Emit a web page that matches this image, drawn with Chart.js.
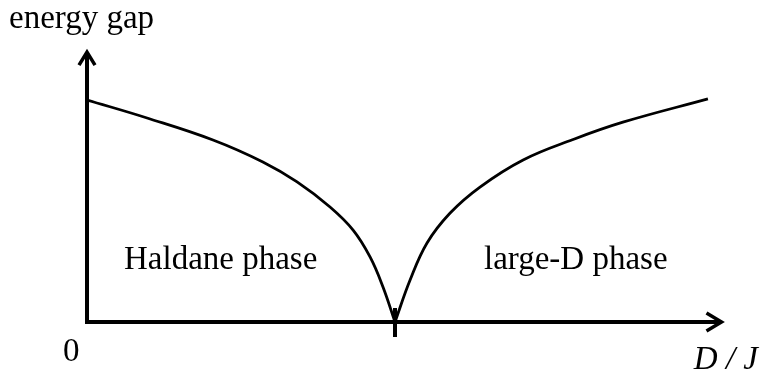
<!DOCTYPE html>
<html>
<head>
<meta charset="utf-8">
<script src="https://cdn.jsdelivr.net/npm/chart.js@4"></script>
<style>
  html, body { margin: 0; padding: 0; background: #fff; }
  #wrap { width: 767px; height: 372px; }
</style>
</head>
<body>
<div id="wrap"><canvas id="gapChart"></canvas></div>
<script>
// D/J in units of the critical point (Dc = 1), gap in units of the gap at D = 0
const haldaneX = [0, 0.195, 0.409, 0.571, 0.682, 0.789, 0.864, 0.919, 0.961, 1];
const haldaneY = [1.0, 0.919, 0.820, 0.721, 0.631, 0.518, 0.414, 0.293, 0.158, 0];
const largeDX = [1, 1.049, 1.104, 1.179, 1.276, 1.416, 1.578, 1.740, 2.016];
const largeDY = [0, 0.189, 0.356, 0.491, 0.608, 0.730, 0.822, 0.900, 1.005];
const criticalX = 1;
const axisLabels = { x: 'D / J', y: 'energy gap', origin: '0' };
const phaseLabels = ['Haldane phase', 'large-D phase'];

const toPoints = (xs, ys) => xs.map((x, i) => ({ x: x, y: ys[i] }));

// axes with arrows, the tick at Dc and the texts
const schematicAxes = {
    id: 'schematicAxes',
    afterDatasetsDraw(chart) {
        const ctx = chart.ctx;
        const xs = chart.scales.x, ys = chart.scales.y;
        const x0 = xs.getPixelForValue(0), y0 = ys.getPixelForValue(0);
        const xEnd = xs.getPixelForValue(2.06), yEnd = ys.getPixelForValue(1.216);
        const xc = xs.getPixelForValue(criticalX);

        ctx.save();
        ctx.strokeStyle = '#000';
        ctx.lineCap = 'butt';
        ctx.lineWidth = 4;
        ctx.beginPath();
        ctx.moveTo(x0, yEnd + 2);
        ctx.lineTo(x0, y0 + 2);
        ctx.moveTo(x0 - 2, y0);
        ctx.lineTo(xEnd - 2, y0);
        ctx.stroke();

        // tick at the critical point
        ctx.beginPath();
        ctx.moveTo(xc, y0 - 14);
        ctx.lineTo(xc, y0 + 15);
        ctx.stroke();

        // arrow heads
        ctx.lineWidth = 3.5;
        ctx.lineJoin = 'miter';
        ctx.beginPath();
        ctx.moveTo(x0 - 8, yEnd + 13);
        ctx.lineTo(x0, yEnd);
        ctx.lineTo(x0 + 8, yEnd + 13);
        ctx.stroke();
        ctx.beginPath();
        ctx.moveTo(xEnd - 15, y0 - 9);
        ctx.lineTo(xEnd, y0);
        ctx.lineTo(xEnd - 15, y0 + 9);
        ctx.stroke();

        ctx.fillStyle = '#000';
        ctx.textBaseline = 'alphabetic';
        ctx.font = '33px "Liberation Serif", "Times New Roman", serif';
        ctx.textAlign = 'left';
        ctx.fillText(axisLabels.y, 9, 28);
        ctx.fillText(phaseLabels[0], 124, 269);
        ctx.fillText(phaseLabels[1], 484, 269);
        ctx.fillText(axisLabels.origin, 63, 361);
        ctx.font = 'italic 33px "Liberation Serif", "Times New Roman", serif';
        ctx.textAlign = 'right';
        ctx.fillText(axisLabels.x, 758, 369);
        ctx.restore();
    }
};

const ctx = document.getElementById('gapChart').getContext('2d');
new Chart(ctx, {
    type: 'line',
    data: {
        datasets: [{
            label: 'Haldane',
            data: toPoints(haldaneX, haldaneY),
            borderColor: '#000',
            borderWidth: 2.8,
            pointRadius: 0,
            tension: 0.4
        }, {
            label: 'large-D',
            data: toPoints(largeDX, largeDY),
            borderColor: '#000',
            borderWidth: 2.8,
            pointRadius: 0,
            tension: 0.4
        }]
    },
    options: {
        responsive: true,
        maintainAspectRatio: false,
        animation: false,
        layout: { padding: { left: 87, right: 33.2, top: 44.5, bottom: 50 } },
        scales: {
            x: { type: 'linear', min: 0, max: 2.1, display: false },
            y: { type: 'linear', min: 0, max: 1.25, display: false }
        },
        plugins: {
            legend: { display: false },
            tooltip: { enabled: false }
        }
    },
    plugins: [schematicAxes]
});
</script>
</body>
</html>
